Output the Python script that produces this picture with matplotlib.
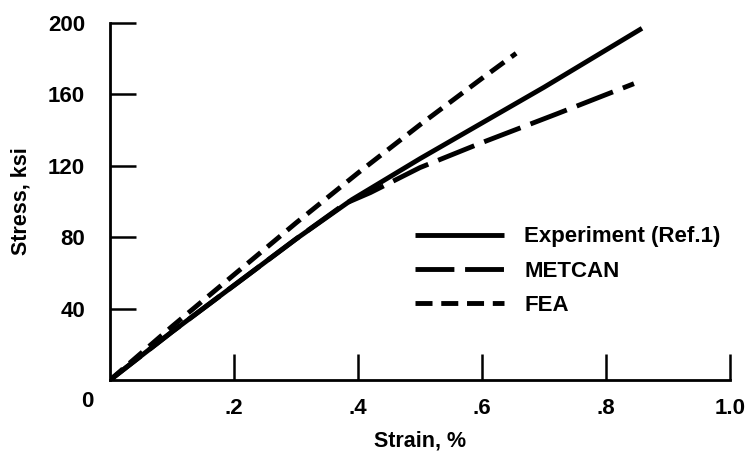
import matplotlib
matplotlib.use("Agg")
import matplotlib.pyplot as plt

plt.rcParams['font.family'] = ['Liberation Sans', 'DejaVu Sans']
plt.rcParams['font.weight'] = 'bold'

# values (strain in %, stress in ksi)
exp_strain = [0, 0.1, 0.2, 0.3, 0.39, 0.5, 0.6, 0.7, 0.858]
exp_stress = [0, 27, 53, 79, 101, 124, 144, 164, 197]

metcan_strain = [0, 0.1, 0.2, 0.3, 0.38, 0.42, 0.5, 0.6, 0.72, 0.845]
metcan_stress = [0, 27, 53, 79, 99, 105, 119, 133, 149, 166]

fea_strain = [0, 0.1, 0.2, 0.3, 0.4, 0.5, 0.6, 0.655]
fea_stress = [0, 30, 59, 88, 116, 143, 169, 183]

x_ticks = [0.2, 0.4, 0.6, 0.8, 1.0]
x_labels = ['.2', '.4', '.6', '.8', '1.0']
y_ticks = [40, 80, 120, 160, 200]

fig = plt.figure(figsize=(7.46, 4.55), dpi=100)
ax = fig.add_axes([0.1475, 0.1648, 0.8311, 0.7847])

lw = 3.5
ax.plot(exp_strain, exp_stress, color='black', lw=lw,
        solid_capstyle='butt', label='Experiment (Ref.1)')
ax.plot(metcan_strain, metcan_stress, color='black', lw=lw,
        dashes=(8, 2.2), label='METCAN')
ax.plot(fea_strain, fea_stress, color='black', lw=lw,
        dashes=(3.5, 1.8), label='FEA')

ax.set_xlim(0, 1.0)
ax.set_ylim(0, 200)
ax.spines['top'].set_visible(False)
ax.spines['right'].set_visible(False)
for s in ('left', 'bottom'):
    ax.spines[s].set_linewidth(2)

ax.set_xticks(x_ticks)
ax.set_xticklabels(x_labels)
ax.set_yticks(y_ticks)
ax.tick_params(direction='in', length=19, width=1.8, labelsize=16, pad=13)
ax.tick_params(axis='y', pad=18)

# corner zero label
ax.text(-0.037, -12, '0', fontsize=16, ha='center', va='center')

ax.set_xlabel('Strain, %', fontsize=15.5, fontweight='bold', labelpad=8)
ax.set_ylabel('Stress, ksi', fontsize=15.5, fontweight='bold', labelpad=12)

leg = ax.legend(loc='upper left', bbox_to_anchor=(0.478, 0.455), frameon=False,
                fontsize=16, handlelength=4.0, handletextpad=0.9,
                labelspacing=0.6, borderaxespad=0)

fig.savefig('out.png', dpi=100)
